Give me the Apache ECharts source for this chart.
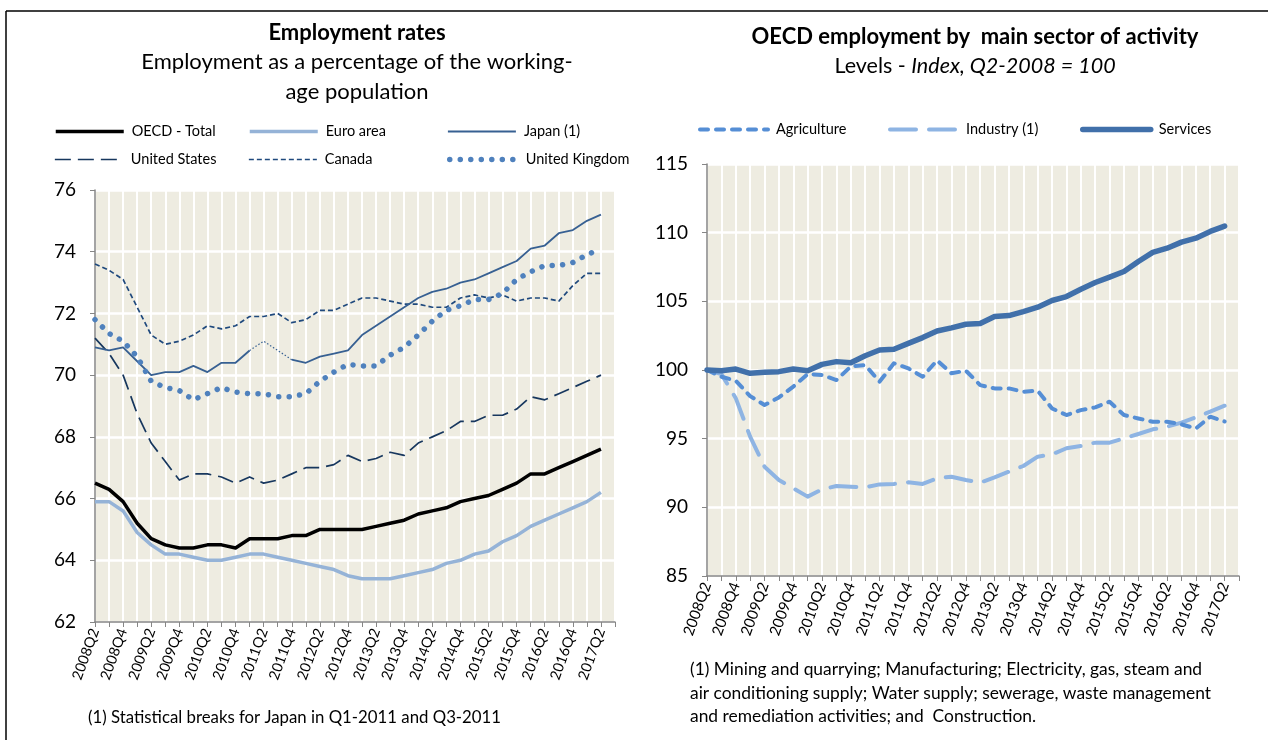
<!DOCTYPE html>
<html><head><meta charset="utf-8">
<script src="https://cdn.jsdelivr.net/npm/echarts@6/dist/echarts.min.js"></script>
<style>html,body{margin:0;padding:0;background:#fff}#c{width:1280px;height:740px}</style>
</head><body><div id="c"></div>
<script>
// ---------- DATA ----------
const quarters = ['2008Q2','2008Q3','2008Q4','2009Q1','2009Q2','2009Q3','2009Q4','2010Q1','2010Q2','2010Q3','2010Q4',
  '2011Q1','2011Q2','2011Q3','2011Q4','2012Q1','2012Q2','2012Q3','2012Q4','2013Q1','2013Q2','2013Q3','2013Q4',
  '2014Q1','2014Q2','2014Q3','2014Q4','2015Q1','2015Q2','2015Q3','2015Q4','2016Q1','2016Q2','2016Q3','2016Q4',
  '2017Q1','2017Q2'];

// Left panel: employment rates (%)
const oecdTotal = [66.5,66.3,65.9,65.2,64.7,64.5,64.4,64.4,64.5,64.5,64.4,64.7,64.7,64.7,64.8,64.8,65.0,65.0,65.0,65.0,65.1,65.2,65.3,65.5,65.6,65.7,65.9,66.0,66.1,66.3,66.5,66.8,66.8,67.0,67.2,67.4,67.6];
const euroArea = [65.9,65.9,65.6,64.9,64.5,64.2,64.2,64.1,64.0,64.0,64.1,64.2,64.2,64.1,64.0,63.9,63.8,63.7,63.5,63.4,63.4,63.4,63.5,63.6,63.7,63.9,64.0,64.2,64.3,64.6,64.8,65.1,65.3,65.5,65.7,65.9,66.2];
const japan = [70.9,70.8,70.9,70.45,70.0,70.1,70.1,70.3,70.1,70.4,70.4,70.8,null,null,70.5,70.4,70.6,70.7,70.8,71.3,71.6,71.9,72.2,72.5,72.7,72.8,73.0,73.1,73.3,73.5,73.7,74.1,74.2,74.6,74.7,75.0,75.2];
const japanBreak = [null,null,null,null,null,null,null,null,null,null,null,70.8,71.1,70.8,70.5,null,null,null,null,null,null,null,null,null,null,null,null,null,null,null,null,null,null,null,null,null,null];
const unitedStates = [71.2,70.7,70.0,68.75,67.8,67.2,66.6,66.8,66.8,66.7,66.5,66.7,66.5,66.6,66.8,67.0,67.0,67.1,67.4,67.2,67.3,67.5,67.4,67.8,68.0,68.2,68.5,68.5,68.7,68.7,68.9,69.3,69.2,69.4,69.6,69.8,70.0];
const canada = [73.6,73.4,73.1,72.2,71.3,71.0,71.1,71.3,71.6,71.5,71.6,71.9,71.9,72.0,71.7,71.8,72.1,72.1,72.3,72.5,72.5,72.4,72.3,72.3,72.2,72.2,72.5,72.6,72.5,72.6,72.4,72.5,72.5,72.4,72.9,73.3,73.3];
const unitedKingdom = [71.8,71.35,71.1,70.6,69.8,69.6,69.5,69.2,69.4,69.6,69.45,69.4,69.4,69.3,69.3,69.4,69.8,70.1,70.35,70.3,70.3,70.65,70.9,71.3,71.75,72.1,72.25,72.45,72.45,72.65,73.1,73.35,73.55,73.55,73.65,73.9,74.1];

// Right panel: employment by sector (index Q2-2008 = 100)
const agriculture = [100.0,99.51,99.22,98.1,97.45,98.0,98.79,99.7,99.64,99.27,100.25,100.36,99.15,100.49,100.12,99.51,100.7,99.76,99.95,98.9,98.66,98.66,98.42,98.49,97.2,96.72,97.08,97.28,97.69,96.72,96.47,96.23,96.23,96.04,95.74,96.6,96.25];
const industry = [100.0,99.7,97.95,95.15,92.96,91.99,91.38,90.78,91.31,91.55,91.5,91.46,91.67,91.7,91.82,91.7,92.11,92.23,91.99,91.8,92.18,92.6,93.01,93.69,93.86,94.3,94.47,94.71,94.71,95.02,95.34,95.68,95.87,96.17,96.55,96.97,97.4];
const services = [100.0,99.95,100.07,99.76,99.83,99.88,100.07,99.95,100.41,100.61,100.53,101.04,101.46,101.51,101.94,102.36,102.84,103.07,103.33,103.38,103.89,103.96,104.25,104.57,105.06,105.35,105.88,106.37,106.76,107.17,107.9,108.56,108.87,109.31,109.6,110.09,110.48];

// Axis ticks
const leftTicks = {min: 62, max: 76, interval: 2};
const rightTicks = {min: 85, max: 115, interval: 5};

// ---------- CHART ----------
const FF = 'Lato, "Noto Sans", sans-serif';
const BG = '#EEECE1';
const AX = '#868686';
const chart = echarts.init(document.getElementById('c'), null, {renderer: 'canvas'});

// line styles per series
const styles = {
  'OECD - Total':   {color: '#000000', width: 3.5, type: 'solid', cap: 'butt'},
  'Euro area':      {color: '#95B3D7', width: 3.5, type: 'solid', cap: 'butt'},
  'Japan (1)':      {color: '#376092', width: 1.8, type: 'solid', cap: 'butt'},
  'United States':  {color: '#17375E', width: 1.7, type: [16, 7], cap: 'butt'},
  'Canada':         {color: '#1F497D', width: 1.7, type: [5, 3], cap: 'butt'},
  'United Kingdom': {color: '#4F81BD', width: 5.5, type: [0.01, 10.5], cap: 'round'},
  'Japan break':    {color: '#376092', width: 1.2, type: [1.5, 2], cap: 'butt'},
  'Agriculture':    {color: '#558ED5', width: 4, type: [8, 8], cap: 'round'},
  'Industry (1)':   {color: '#8EB4E3', width: 4, type: [26, 13], cap: 'round'},
  'Services':       {color: '#4170AA', width: 5.5, type: 'solid', cap: 'round'}
};

function xAxisCfg(gi, fs) {
  return {
    type: 'category', gridIndex: gi, data: quarters, boundaryGap: false, max: quarters.length,
    axisLine: {show: true, lineStyle: {color: AX, width: 1.5}},
    axisTick: {show: true, interval: 0, length: 5, lineStyle: {color: AX, width: 1}},
    axisLabel: {interval: 1, rotate: 70, fontSize: fs, fontFamily: FF, color: '#000', margin: 7},
    splitLine: {show: true, interval: 0, lineStyle: {color: '#fff', width: 2}}
  };
}
function yAxisCfg(gi, t) {
  return {
    type: 'value', gridIndex: gi, min: t.min, max: t.max, interval: t.interval,
    axisLine: {show: true, lineStyle: {color: AX, width: 1.5}},
    axisTick: {show: true, length: 5, lineStyle: {color: AX, width: 1}},
    axisLabel: {fontSize: 19, fontFamily: FF, color: '#000', margin: 19},
    splitLine: {show: true, lineStyle: {color: '#fff', width: 2.5}}
  };
}
function legendCfg(name, left, top) {
  const s = styles[name];
  return {
    data: [name], left: left, top: top, padding: 0, itemWidth: 68, itemHeight: 12, itemGap: 0,
    itemStyle: {color: 'rgba(0,0,0,0)', borderColor: 'rgba(0,0,0,0)', borderWidth: 0, opacity: 0},
    lineStyle: {color: s.color, width: s.width, type: s.type, cap: s.cap, opacity: 1},
    textStyle: {fontSize: 14.5, fontFamily: FF, color: '#000', padding: [0, 0, 0, 3]},
    selectedMode: false
  };
}
function line(name, data, xi) {
  const s = styles[name];
  return {
    name: name, type: 'line', xAxisIndex: xi, yAxisIndex: xi, data: data, symbol: 'none', showSymbol: false,
    lineStyle: {color: s.color, width: s.width, type: s.type, cap: s.cap, join: 'round'},
    itemStyle: {color: s.color}, emphasis: {disabled: true}, connectNulls: false, z: 3
  };
}

const option = {
  animation: false,
  backgroundColor: '#fff',
  grid: [
    {left: 95, top: 190, width: 520, height: 432, show: true, backgroundColor: BG, borderWidth: 0, containLabel: false},
    {left: 707, top: 164, width: 532, height: 412, show: true, backgroundColor: BG, borderWidth: 0, containLabel: false}
  ],
  xAxis: [xAxisCfg(0, 14.5), xAxisCfg(1, 15)],
  yAxis: [yAxisCfg(0, leftTicks), yAxisCfg(1, rightTicks)],
  legend: [
    legendCfg('OECD - Total', 54, 124), legendCfg('Euro area', 248, 124), legendCfg('Japan (1)', 447, 124),
    legendCfg('United States', 54, 152), legendCfg('Canada', 248, 152), legendCfg('United Kingdom', 447, 152),
    legendCfg('Agriculture', 698, 122), legendCfg('Industry (1)', 888, 122), legendCfg('Services', 1080, 122)
  ],
  series: [
    line('Canada', canada, 0),
    line('United States', unitedStates, 0),
    line('Japan (1)', japan, 0),
    Object.assign(line('Japan break', japanBreak, 0), {silent: true}),
    line('United Kingdom', unitedKingdom, 0),
    line('Euro area', euroArea, 0),
    line('OECD - Total', oecdTotal, 0),
    line('Industry (1)', industry, 1),
    line('Agriculture', agriculture, 1),
    line('Services', services, 1)
  ],
  graphic: [
    {type: 'line', shape: {x1: 6, y1: 11, x2: 1268, y2: 11}, style: {stroke: '#000', lineWidth: 1.5}, silent: true},
    {type: 'line', shape: {x1: 6, y1: 11, x2: 6, y2: 740}, style: {stroke: '#000', lineWidth: 1.5}, silent: true},
    {type: 'text', x: 357, y: 33, silent: true, style: {text: 'Employment rates', fontSize: 22, fontWeight: 'bold', fontFamily: FF, fill: '#000', align: 'center', verticalAlign: 'middle', textAlign: 'center', textVerticalAlign: 'middle'}},
    {type: 'text', x: 357, y: 62, silent: true, style: {text: 'Employment as a percentage of the working-', fontSize: 22, fontFamily: FF, fill: '#000', align: 'center', verticalAlign: 'middle', textAlign: 'center', textVerticalAlign: 'middle'}},
    {type: 'text', x: 357, y: 92, silent: true, style: {text: 'age population', fontSize: 22, fontFamily: FF, fill: '#000', align: 'center', verticalAlign: 'middle', textAlign: 'center', textVerticalAlign: 'middle'}},
    {type: 'text', x: 975, y: 37, silent: true, style: {text: 'OECD employment by  main sector of activity', fontSize: 22, fontWeight: 'bold', fontFamily: FF, fill: '#000', align: 'center', verticalAlign: 'middle', textAlign: 'center', textVerticalAlign: 'middle'}},
    {type: 'text', x: 975, y: 66, silent: true, style: {text: '{a|Levels - }{b|Index, Q2-2008 = 100}', align: 'center', verticalAlign: 'middle', textAlign: 'center', textVerticalAlign: 'middle',
      rich: {a: {fontSize: 21.5, fontFamily: FF, fill: '#000', color: '#000'}, b: {fontSize: 21.5, fontFamily: FF, fontStyle: 'italic', fill: '#000', color: '#000'}}}},
    {type: 'text', x: 88, y: 718, silent: true, style: {text: '(1) Statistical breaks for Japan in Q1-2011 and Q3-2011', fontSize: 16.8, fontFamily: FF, fill: '#000', align: 'left', verticalAlign: 'middle', textAlign: 'left', textVerticalAlign: 'middle'}},
    {type: 'text', x: 690, y: 658, silent: true, style: {text: '(1) Mining and quarrying; Manufacturing; Electricity, gas, steam and\nair conditioning supply; Water supply; sewerage, waste management\nand remediation activities; and  Construction.', fontSize: 17.4, lineHeight: 23.5, fontFamily: FF, fill: '#000', align: 'left', verticalAlign: 'top', textAlign: 'left', textVerticalAlign: 'top'}}
  ]
};
chart.setOption(option);
</script>
</body></html>
